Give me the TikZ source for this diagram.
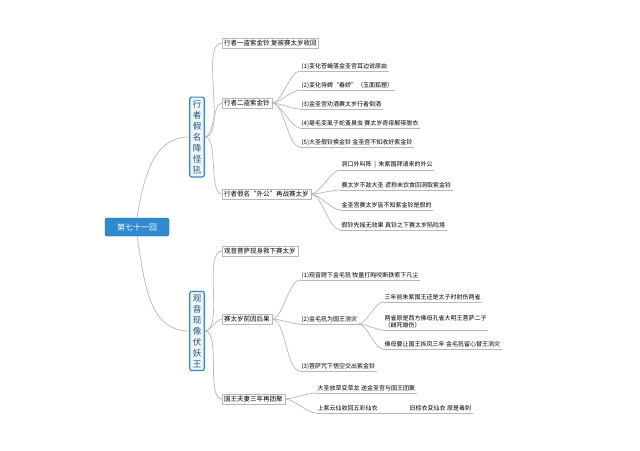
\documentclass[tikz,border=0pt]{standalone}
\usepackage{fontspec}
\setmainfont{Noto Sans CJK SC}
\usepackage{tikz}
\definecolor{rootblue}{HTML}{2F8AD0}
\definecolor{topicfill}{HTML}{EEF6FC}
\definecolor{linegray}{HTML}{B8B8B8}
\tikzset{
  line/.style={draw=linegray, line width=0.7pt},
  root/.style={fill=rootblue, draw=rootblue!70!black, rounded corners=2pt, text=white, minimum width=64pt, minimum height=18pt, font=\fontsize{8}{9}\selectfont},
  topic/.style={fill=topicfill, draw=rootblue, line width=1.2pt, rounded corners=2pt, text=rootblue!60!black, align=center, inner sep=3pt, font=\fontsize{8.5}{11}\selectfont},
  subbox/.style={draw=linegray, anchor=west, inner sep=2pt, font=\fontsize{6.5}{8}\selectfont},
  leaf/.style={anchor=south west, inner sep=1.5pt, align=left, font=\fontsize{6}{7.5}\selectfont,
    append after command={(\tikzlastnode.south west) edge[line] (\tikzlastnode.south east)}},
  conn/.style={line, out=0, in=180, looseness=0.6}
}
\begin{document}
\begin{tikzpicture}[x=1pt, y=-1pt]
\useasboundingbox[fill=white] (0,0) rectangle (640,450);
% root and main topics
\node[root] (root) at (137,227) {第七十一回};
\node[topic] (t1) at (197,137) {行\\者\\假\\名\\降\\怪\\犼};
\node[topic] (t2) at (197,331) {观\\音\\现\\像\\伏\\妖\\王};
\draw[line] (root.north) to[out=80,in=180] (t1.west);
\draw[line] (root.south) to[out=-80,in=180] (t2.west);

% first topic
\node[subbox] (a1) at (222,43) {行者一盗紫金铃\ 复被赛太岁收回};
\node[subbox] (a2) at (222,103) {行者二盗紫金铃};
\node[subbox] (a3) at (222,194) {行者假名“外公”再战赛太岁};
\foreach \n in {a1,a2,a3} \draw[conn] (t1.east) to (\n.west);

\node[leaf] (b1) at (300,71) {(1)变化苍蝇落金圣宫耳边说原由};
\node[leaf] (b2) at (300,90) {(2)变化侍婢“春娇”（玉面狐狸）};
\node[leaf] (b3) at (300,109) {(3)金圣宫劝酒赛太岁行者倒酒};
\node[leaf] (b4) at (300,128) {(4)毫毛变虱子蛇蚤臭虫 赛太岁奇痒解带脱衣};
\node[leaf] (b5) at (300,147) {(5)大圣假铃换金铃 金圣宫不知收好紫金铃};
\foreach \n in {b1,b2,b3,b4,b5} \draw[conn] (a2.east) to (\n.south west);

\node[leaf] (c1) at (340,170) {洞口外叫阵\ \ |\ \ 朱紫国拜请来的外公};
\node[leaf] (c2) at (340,190) {赛太岁不敌大圣 谎称未饮食回洞取紫金铃};
\node[leaf] (c3) at (340,210) {金圣宫赛太岁皆不知紫金铃是假的};
\node[leaf] (c4) at (340,230) {假铃先摇无效果 真铃之下赛太岁陷险境};
\foreach \n in {c1,c2,c3,c4} \draw[conn] (a3.east) to (\n.south west);

% second topic
\node[subbox] (d1) at (222,251) {观音菩萨现身救下赛太岁};
\node[subbox] (d2) at (222,319) {赛太岁前因后果};
\node[subbox] (d3) at (222,399) {国王夫妻三年再团聚};
\foreach \n in {d1,d2,d3} \draw[conn] (t2.east) to (\n.west);

\node[leaf] (e1) at (300,280) {(1)观音跨下金毛犼 牧童打盹咬断铁索下凡尘};
\node[leaf] (e2) at (300,324) {(2)金毛犼为国王消灾};
\node[leaf] (e3) at (300,371) {(3)菩萨咒下悟空交出紫金铃};
\foreach \n in {e1,e2,e3} \draw[conn] (d2.east) to (\n.south west);

\node[leaf] (f1) at (383,302) {三年前朱紫国王还是太子时射伤两雀};
\node[leaf] (f2) at (383,330) {两雀原是西方佛母孔雀大明王菩萨二子\\（雌死雄伤）};
\node[leaf] (f3) at (383,349) {佛母要让国王拆凤三年 金毛犼留心替王消灾};
\foreach \n in {f1,f2,f3} \draw[conn] (e2.south east) to (\n.south west);

\node[leaf] (g1) at (316,393) {大圣放草变草龙 送金圣宫与国王团聚};
\node[leaf] (g2) at (316,413) {上紫云仙收回五彩仙衣};
\node[leaf] (g3) at (408,413) {旧棕衣变仙衣 原是毒刺};
\foreach \n in {g1,g2} \draw[conn] (d3.east) to (\n.south west);
\draw[line] (g2.south east) -- (g3.south west);
\end{tikzpicture}
\end{document}
